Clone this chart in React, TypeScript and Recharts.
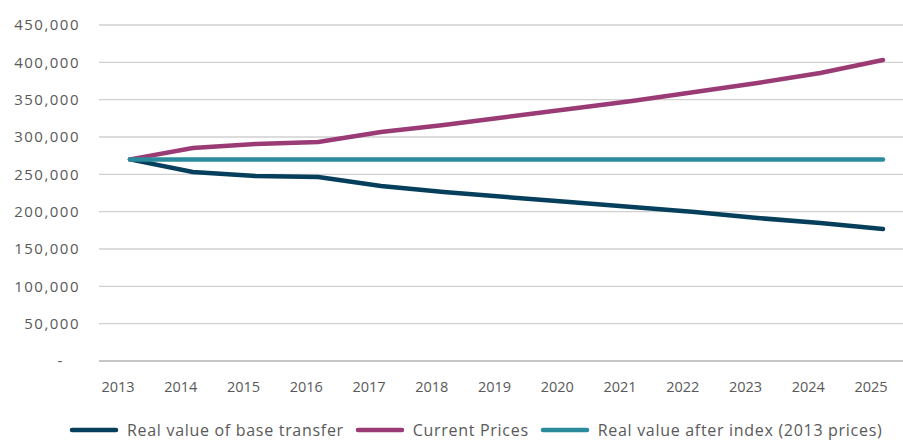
import { LineChart, Line, XAxis, YAxis, CartesianGrid, Legend } from "recharts";

const years = ["2013", "2014", "2015", "2016", "2017", "2018", "2019", "2020", "2021", "2022", "2023", "2024", "2025"];
const realBase = [270000, 253100, 247800, 246400, 234400, 226300, 219600, 212900, 206300, 199600, 191500, 184800, 176800];
const currentPrices = [270000, 285300, 290600, 293300, 306700, 316000, 326800, 337500, 348200, 360300, 372300, 385700, 403100];
const realIndexed = [270000, 270000, 270000, 270000, 270000, 270000, 270000, 270000, 270000, 270000, 270000, 270000, 270000];
const yTicks = [0, 50000, 100000, 150000, 200000, 250000, 300000, 350000, 400000, 450000];

const series = [
  { key: "base", name: "Real value of base transfer", color: "#063f5c" },
  { key: "current", name: "Current Prices", color: "#9b3b76" },
  { key: "indexed", name: "Real value after index (2013 prices)", color: "#2b8a9b" },
];

const data = years.map((year, i) => ({
  year,
  base: realBase[i],
  current: currentPrices[i],
  indexed: realIndexed[i],
}));

const font = "'Open Sans', sans-serif";
const grey = "#595959";

// zero shows as a dash, like the accounting format
const fmt = (v: number) => (v === 0 ? "-\u00a0\u00a0\u00a0" : v.toLocaleString("en-US"));

const LegendContent = () => (
  <div
    style={{
      display: "flex",
      alignItems: "center",
      paddingLeft: 69,
      paddingTop: 9,
      fontFamily: font,
      fontSize: 16,
      letterSpacing: 0.7,
      color: grey,
    }}
  >
    {series.map((s) => (
      <div key={s.key} style={{ display: "flex", alignItems: "center", marginRight: 11 }}>
        <svg width={50} height={10} style={{ marginRight: 8 }}>
          <line x1={3} y1={5} x2={47} y2={5} stroke={s.color} strokeWidth={4.5} strokeLinecap="round" />
        </svg>
        <span>{s.name}</span>
      </div>
    ))}
  </div>
);

export default function App() {
  return (
    <div style={{ position: "absolute", left: 0, top: 0 }}>
      <LineChart width={903} height={440} data={data} margin={{ top: 25, right: 0, left: 0, bottom: 0 }}>
        <CartesianGrid vertical={false} stroke="#d0d0d0" strokeWidth={1.3} />
        <XAxis
          dataKey="year"
          padding={{ left: 31, right: 20 }}
          axisLine={{ stroke: "#bfbfbf", strokeWidth: 1.5 }}
          tickLine={false}
          tickSize={0}
          tickMargin={21}
          height={49}
          interval={0}
          tick={{ fill: grey, fontSize: 14.5, fontFamily: font, dx: -12 }}
        />
        <YAxis
          domain={[0, 450000]}
          ticks={yTicks}
          tickFormatter={fmt}
          axisLine={false}
          tickLine={false}
          tickSize={0}
          tickMargin={19}
          width={99}
          interval={0}
          tick={{ fill: grey, fontSize: 15, fontFamily: font, letterSpacing: 1.5 }}
        />
        <Legend verticalAlign="bottom" height={30} content={LegendContent} />
        {series.map((s) => (
          <Line
            key={s.key}
            name={s.name}
            dataKey={s.key}
            stroke={s.color}
            strokeWidth={4.5}
            dot={false}
            strokeLinecap="round"
            isAnimationActive={false}
          />
        ))}
      </LineChart>
    </div>
  );
}
